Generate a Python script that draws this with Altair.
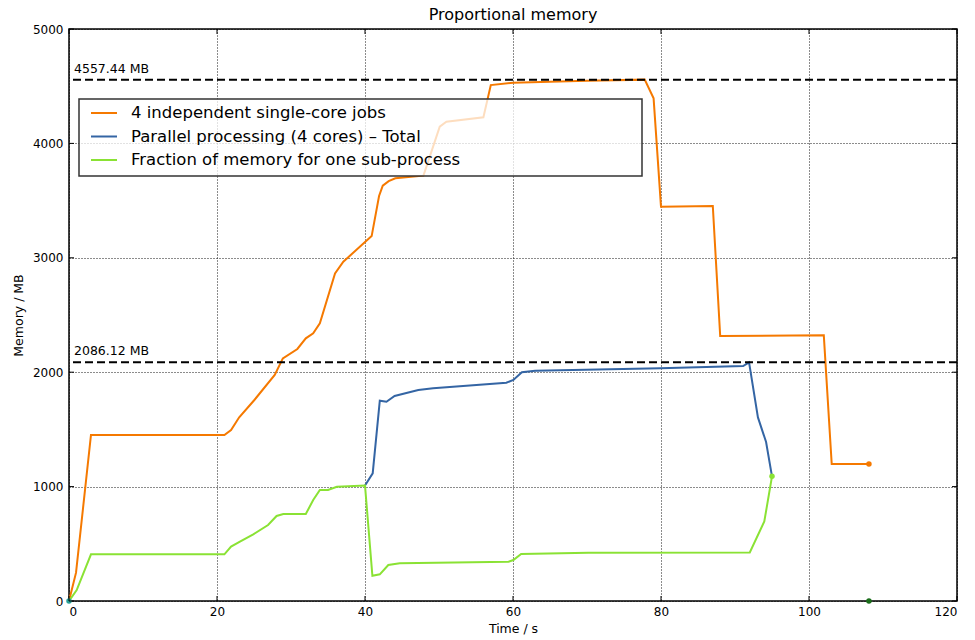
import altair as alt
import pandas as pd

# ---- series data (time in s, proportional memory in MB) ----
SERIES = [
    "4 independent single-core jobs",
    "Parallel processing (4 cores) – Total",
    "Fraction of memory for one sub-process",
]
COLORS = ["#f57900", "#3465a4", "#8ae234"]

single_t = [0, 0.95, 2.97, 21.0, 21.9, 23.0, 25.05, 27.8, 28.9, 30.86, 32.0, 33.0,
            33.9, 35.95, 37.07, 40.9, 41.9, 42.4, 43.2, 44.1, 47.9, 50.1, 51.0,
            56.0, 57.0, 60.0, 70.0, 77.8, 79.0, 80.0, 87.0, 88.0, 102.0, 103.07, 108.1]
single_m = [0, 248, 1451, 1451, 1495, 1606, 1757, 1976, 2121, 2203, 2296, 2340,
            2427, 2864, 2966, 3190, 3540, 3630, 3670, 3695, 3718, 4146, 4190,
            4228, 4510, 4530, 4548, 4557.44, 4394, 3447, 3453, 2316, 2322, 1197, 1197]

parallel_t = [40.0, 41.04, 42.0, 42.9, 44.0, 47.2, 49.2, 59.1, 60.05, 61.2, 63.0,
              79.9, 91.1, 91.9, 93.1, 94.2, 95.0]
parallel_m = [1010, 1116, 1751, 1742, 1792, 1844, 1859, 1908, 1932, 1999, 2013,
              2034, 2054, 2086.12, 1605, 1390, 1090]

fraction_t = [0, 1.04, 2.97, 21.0, 21.9, 23.1, 24.9, 26.9, 28.05, 28.96, 32.0, 33.0,
              33.9, 35.0, 36.2, 40.0, 41.0, 42.0, 43.15, 44.7, 59.4, 60.05, 61.1,
              70.2, 92.0, 93.96, 95.0]
fraction_m = [0, 96, 408, 408, 475, 519, 583, 664, 743, 760, 760, 883,
              970, 970, 999, 1010, 221, 233, 315, 329, 344, 358, 411,
              422, 425, 695, 1090]

# peak levels marked with dashed lines
peak_values = [4557.44, 2086.12]

# end-of-run markers
marker_t = [108.1, 95.0, 108.1, 0.0]
marker_m = [1197, 1090, 0, 0]
marker_color = ["#f57900", "#8ae234", "#1a6e1a", "#2aa198"]

x_ticks = [0, 20, 40, 60, 80, 100, 120]
y_ticks = [0, 1000, 2000, 3000, 4000, 5000]

W, H = 888, 572
FONT = "DejaVu Sans"

rows = []
for name, ts, ms in zip(SERIES, [single_t, parallel_t, fraction_t],
                        [single_m, parallel_m, fraction_m]):
    for i, (t, m) in enumerate(zip(ts, ms)):
        rows.append({"series": name, "idx": i, "t": t, "mem": m})
df = pd.DataFrame(rows)

peaks = pd.DataFrame({"mem": peak_values,
                      "label": [f"{v:.2f} MB" for v in peak_values]})
markers = pd.DataFrame({"t": marker_t, "mem": marker_m, "c": marker_color})
xt = pd.DataFrame({"t": x_ticks})
yt = pd.DataFrame({"mem": y_ticks})

x_scale = alt.Scale(domain=[0, 120], nice=False, zero=False)
y_scale = alt.Scale(domain=[0, 5000], nice=False)
color_scale = alt.Scale(domain=SERIES, range=COLORS)

x_axis = alt.Axis(title="Time / s", values=x_ticks, format="d", grid=True,
                  domain=False, ticks=False, labelPadding=5, titlePadding=5)
y_axis = alt.Axis(title="Memory / MB", values=y_ticks, format="d", grid=True,
                  domain=False, ticks=False, labelPadding=6, titlePadding=7)

X = alt.X("t:Q", scale=x_scale, axis=x_axis)
Y = alt.Y("mem:Q", scale=y_scale, axis=y_axis)

base = alt.Chart(df)


def series_layer(name):
    return (base.transform_filter(alt.datum.series == name)
            .mark_line(strokeWidth=2, clip=True)
            .encode(
                x=X, y=Y,
                color=alt.Color("series:N", scale=color_scale, sort=SERIES,
                                legend=alt.Legend(
                                    title=None, orient="none",
                                    legendX=21, legendY=70,
                                    symbolType="stroke", symbolSize=676,
                                    symbolStrokeWidth=2, labelFont=FONT,
                                    labelFontSize=16.5, labelColor="black",
                                    labelOffset=13, rowPadding=0.5,
                                    padding=0, labelLimit=600)),
                order="idx:Q",
            ))


orange = series_layer(SERIES[0])
blue = series_layer(SERIES[1])
green = series_layer(SERIES[2])

dots = alt.Chart(markers).mark_circle(size=30, opacity=1).encode(
    x=X, y=Y, color=alt.Color("c:N", scale=None),
)

peak_rules = alt.Chart(peaks).mark_rule(
    color="black", strokeWidth=2, strokeDash=[8, 4]).encode(y=Y)

peak_text = alt.Chart(peaks).mark_text(
    align="left", baseline="alphabetic", dy=-7,
    font=FONT, fontSize=12.5, color="black").encode(
    x=alt.value(5), y=Y, text="label:N")

# legend frame (one semi-transparent white box, drawn over the curves)
legend_box = alt.Chart(pd.DataFrame({"box": [0]})).mark_rect(
    fill="white", fillOpacity=0.75, stroke="#333333", strokeWidth=1.5).encode(
    x=alt.value(10), x2=alt.value(573), y=alt.value(70), y2=alt.value(147))

# inward tick marks on all four sides
ytick_l = alt.Chart(yt).mark_rule(color="black", strokeWidth=1).encode(
    y=Y, x=alt.value(0), x2=alt.value(5))
ytick_r = alt.Chart(yt).mark_rule(color="black", strokeWidth=1).encode(
    y=Y, x=alt.value(W - 5), x2=alt.value(W))
xtick_b = alt.Chart(xt).mark_rule(color="black", strokeWidth=1).encode(
    x=X, y=alt.value(H - 5), y2=alt.value(H))
xtick_t = alt.Chart(xt).mark_rule(color="black", strokeWidth=1).encode(
    x=X, y=alt.value(0), y2=alt.value(5))

chart = alt.layer(
    orange, blue, green, dots, peak_rules, peak_text, legend_box,
    ytick_l, ytick_r, xtick_b, xtick_t,
).properties(
    width=W, height=H,
    background="white",
    title=alt.TitleParams("Proportional memory", font=FONT, fontSize=16,
                          fontWeight="normal", color="black", offset=0,
                          anchor="middle"),
    autosize=alt.AutoSizeParams(type="none"),
    padding={"left": 69, "top": 29, "right": 18, "bottom": 39},
).configure_view(
    stroke="black", strokeWidth=1.5,
).configure_axis(
    labelFont=FONT, labelFontSize=12, labelColor="black",
    titleFont=FONT, titleFontSize=12.5, titleColor="black",
    titleFontWeight="normal",
    gridColor="black", gridOpacity=0.9, gridWidth=1, gridDash=[1, 2],
)

chart.save("out.html", embed_options={"renderer": "svg", "actions": False})
